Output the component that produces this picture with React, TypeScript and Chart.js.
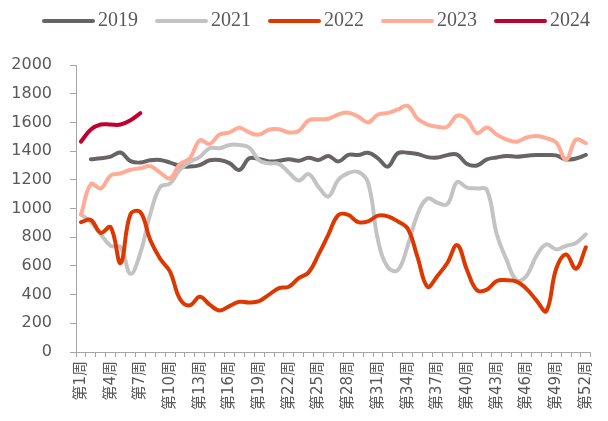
import React, { useEffect, useRef } from "react";
import { Chart, registerables } from "chart.js";

Chart.register(...registerables);

const weeks: string[] = Array.from({ length: 52 }, (_, i) => `第${i + 1}周`);
const seriesNames = ["2019", "2021", "2022", "2023", "2024"];
const seriesColors = ["#686464", "#c3c3c3", "#dd3800", "#ffab96", "#c0002e"];
const yTicks: number[] = [0, 200, 400, 600, 800, 1000, 1200, 1400, 1600, 1800, 2000];

const y2019: (number | null)[] = [
  null, 1343, 1350, 1362, 1390, 1330, 1320, 1336, 1338, 1320,
  1296, 1292, 1302, 1336, 1338, 1316, 1268, 1350, 1345, 1328,
  1332, 1343, 1333, 1354, 1338, 1366, 1327, 1373, 1373, 1388,
  1350, 1292, 1385, 1389, 1380, 1358, 1355, 1372, 1375, 1310,
  1300, 1342, 1356, 1366, 1361, 1368, 1372, 1373, 1370, 1342,
  1348, 1373,
];
const y2021: number[] = [
  960, 905, 820, 740, 730, 545, 690, 960, 1150, 1175,
  1270, 1325, 1360, 1420, 1420, 1443, 1443, 1425, 1335, 1315,
  1310, 1250, 1195, 1240, 1150, 1085, 1200, 1246, 1255, 1180,
  780, 590, 570, 740, 960, 1070, 1040, 1030, 1185, 1145,
  1140, 1130, 820, 640, 500, 530, 670, 750, 715, 740,
  760, 820,
];
const y2022: number[] = [
  905, 920, 830, 870, 620, 960, 975, 780, 650, 560,
  370, 325, 385, 330, 290, 320, 350, 345, 355, 400,
  445, 455, 515, 555, 680, 820, 955, 955, 905, 910,
  950, 945, 910, 860, 660, 455, 530, 620, 745, 570,
  430, 435, 495, 500, 490, 440, 360, 285, 580, 680,
  580, 730,
];
const y2023: number[] = [
  955, 1170, 1140, 1230, 1245, 1270, 1280, 1295, 1250, 1210,
  1310, 1350, 1475, 1450, 1515, 1530, 1562, 1530, 1515, 1550,
  1552, 1530, 1540, 1615, 1622, 1625, 1655, 1668, 1640, 1600,
  1655, 1666, 1690, 1715, 1625, 1585, 1570, 1570, 1647, 1620,
  1525, 1565, 1515, 1480, 1465, 1495, 1505, 1490, 1460, 1340,
  1480, 1455,
];
const y2024: number[] = [1466, 1550, 1585, 1585, 1585, 1615, 1665];

const seriesData = [y2019, y2021, y2022, y2023, y2024];

const TEXT_COLOR = "#595959";
const AXIS_COLOR = "#a6a6a6";

const legendPlugin = {
  id: "customLegend",
  afterDraw(chart: any) {
    const ctx = chart.ctx as CanvasRenderingContext2D;
    ctx.save();
    ctx.font = '20px "Liberation Serif", serif';
    ctx.textBaseline = "middle";
    ctx.textAlign = "left";
    let x = 42;
    const y = 21;
    chart.data.datasets.forEach((ds: any) => {
      ctx.strokeStyle = ds.borderColor;
      ctx.lineWidth = 4;
      ctx.lineCap = "round";
      ctx.beginPath();
      ctx.moveTo(x + 2, y);
      ctx.lineTo(x + 51, y);
      ctx.stroke();
      ctx.fillStyle = TEXT_COLOR;
      ctx.fillText(ds.label, x + 56, y);
      x += 56 + ctx.measureText(ds.label).width + 17;
    });
    ctx.restore();
  },
};

export default function App() {
  const canvasRef = useRef<HTMLCanvasElement | null>(null);

  useEffect(() => {
    if (!canvasRef.current) return;
    const chart = new Chart(canvasRef.current, {
      type: "line",
      data: {
        labels: weeks,
        datasets: seriesNames.map((name, i) => ({
          label: name,
          data: seriesData[i],
          borderColor: seriesColors[i],
          backgroundColor: seriesColors[i],
          borderWidth: 4,
          pointRadius: 0,
          tension: 0.4,
          borderCapStyle: "round" as const,
          borderJoinStyle: "round" as const,
          spanGaps: false,
          order: seriesNames.length - i,
        })),
      },
      options: {
        animation: false,
        responsive: true,
        maintainAspectRatio: false,
        layout: { padding: { top: 65, right: 10, bottom: 0, left: 0 } },
        plugins: {
          legend: { display: false },
          tooltip: { enabled: false },
        },
        scales: {
          x: {
            type: "category",
            offset: true,
            grid: {
              offset: true,
              drawOnChartArea: false,
              drawTicks: true,
              tickLength: 5,
              color: AXIS_COLOR,
            },
            border: { display: true, color: AXIS_COLOR, width: 1 },
            ticks: {
              autoSkip: false,
              maxRotation: 90,
              minRotation: 90,
              padding: 4,
              color: TEXT_COLOR,
              font: { family: '"DejaVu Sans", "Noto Sans CJK SC", sans-serif', size: 15 },
              callback: (_v: any, index: number) => (index % 3 === 0 ? weeks[index] : ""),
            },
            afterFit: (scale: any) => {
              scale.height = 69;
            },
          },
          y: {
            min: yTicks[0],
            max: yTicks[yTicks.length - 1],
            afterBuildTicks: (scale: any) => {
              scale.ticks = yTicks.map((v) => ({ value: v }));
            },
            ticks: {
              padding: 18,
              color: TEXT_COLOR,
              font: { family: '"DejaVu Sans", sans-serif', size: 16 },
              callback: (v: any) => String(v),
            },
            grid: {
              drawOnChartArea: false,
              drawTicks: true,
              tickLength: 6,
              color: AXIS_COLOR,
            },
            border: { display: true, color: AXIS_COLOR, width: 1 },
            afterFit: (scale: any) => {
              scale.width = 76;
            },
          },
        },
      },
      plugins: [legendPlugin],
    });
    return () => chart.destroy();
  }, []);

  return (
    <div
      style={{
        position: "fixed",
        left: 0,
        top: 0,
        width: 608,
        height: 421,
        overflow: "hidden",
        background: "#fff",
      }}
    >
      <canvas ref={canvasRef} />
    </div>
  );
}
